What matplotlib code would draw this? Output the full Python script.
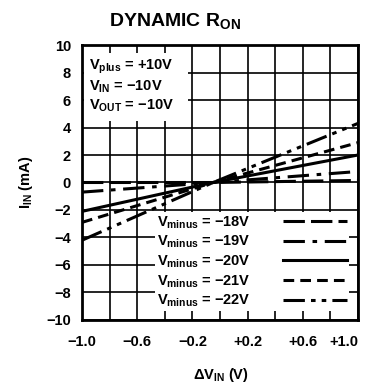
import numpy as np
import matplotlib
matplotlib.use('Agg')
from matplotlib import pyplot as plt
from matplotlib.patches import Rectangle

plt.rcParams['font.family'] = ['Liberation Sans', 'DejaVu Sans']
plt.rcParams['font.weight'] = 'bold'
plt.rcParams['axes.labelweight'] = 'bold'
plt.rcParams['mathtext.fontset'] = 'custom'
plt.rcParams['mathtext.bf'] = 'Liberation Sans:bold'
plt.rcParams['mathtext.rm'] = 'Liberation Sans:bold'
plt.rcParams['mathtext.it'] = 'Liberation Sans:bold'
plt.rcParams['mathtext.default'] = 'bf'

# data
delta_vin = [-1.0, -0.05, 1.0]
vminus_labels = ['-18V', '-19V', '-20V', '-21V', '-22V']
iin_18 = [0.0, 0.0, 0.15]
iin_19 = [-0.7, 0.0, 0.8]
iin_20 = [-2.1, 0.0, 2.0]
iin_21 = [-2.9, 0.0, 2.9]
iin_22 = [-4.2, 0.0, 4.3]
all_iin = [iin_18, iin_19, iin_20, iin_21, iin_22]

xticks = [-1.0, -0.6, -0.2, 0.2, 0.6, 1.0]
xticklabels = ['\u22121.0', '\u22120.6', '\u22120.2', '+0.2', '+0.6', '+1.0']
yticks = list(range(-10, 11, 2))

dash_styles = [(0, (7, 2)),
               (0, (7, 2.5, 1.5, 2.5)),
               '-',
               (0, (3.5, 2)),
               (0, (7, 2, 1.5, 2, 1.5, 2))]

fig = plt.figure(figsize=(3.71, 3.83), dpi=100)
ax = fig.add_axes([0.221, 0.1645, 0.744, 0.718])

for lbl, iin, ls in zip(vminus_labels, all_iin, dash_styles):
    ax.plot(delta_vin, iin, color='black', linewidth=2.2, linestyle=ls,
            label='$V_{minus}$ = ' + lbl.replace('-', '\u2212'))

ax.set_xlim(-1.0, 1.0)
ax.set_ylim(-10, 10)
ax.set_xticks(np.arange(-1.0, 1.01, 0.2), minor=True)
ax.set_xticks(xticks)
ax.set_xticklabels(xticklabels)
ax.set_yticks(yticks)
ax.set_yticklabels([str(t).replace('-', '\u2212') for t in yticks])
ax.grid(True, which='both', color='black', linewidth=1.2)
ax.tick_params(which='both', length=0, labelsize=10.5)
ax.tick_params(axis='x', pad=11)
ax.tick_params(axis='y', pad=8)
# last x label sits a little left of its grid line, as in the reference
ax.get_xticklabels()[-1].set_horizontalalignment('right')
ax.get_xticklabels()[-1].set_x(1.0)
for s in ax.spines.values():
    s.set_linewidth(2.0)

# white boxes behind the annotations
ax.add_patch(Rectangle((-0.985, 4.5), 0.75, 4.95, facecolor='white',
                       edgecolor='none', zorder=2.5))
ax.text(-0.95, 8.4, '$V_{plus}$ = +10V', fontsize=10.5, va='center', zorder=3)
ax.text(-0.95, 6.95, '$V_{IN}$ = \u221210V', fontsize=10.5, va='center', zorder=3)
ax.text(-0.95, 5.55, '$V_{OUT}$ = \u221210V', fontsize=10.5, va='center', zorder=3)

leg = ax.legend(loc='lower right', bbox_to_anchor=(0.995, 0.005), fontsize=10.5,
                markerfirst=False, handlelength=4.4, handletextpad=2.2,
                labelspacing=0.22, borderpad=0.15, frameon=True, fancybox=False,
                framealpha=1.0, edgecolor='none', facecolor='white')
leg.set_zorder(4)

ax.set_ylabel('$I_{IN}$ (mA)', fontsize=10.5, labelpad=8)
fig.text(0.595, 0.022, '$\\Delta V_{IN}$ (V)', fontsize=10.5, ha='center', va='center')
fig.text(0.295, 0.945, 'DYNAMIC $R_{ON}$', fontsize=14, ha='left', va='center')

fig.savefig('out.png', dpi=100)
